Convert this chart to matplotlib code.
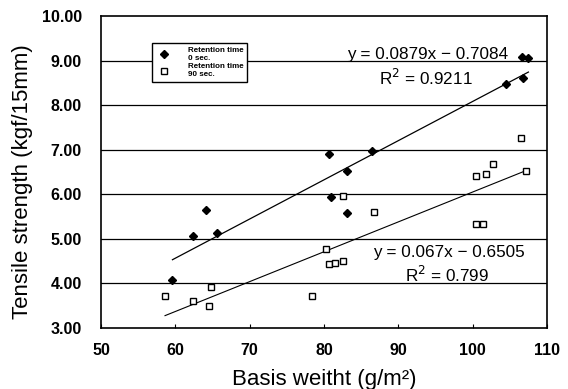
import numpy as np
import matplotlib
matplotlib.use("Agg")
import matplotlib.pyplot as plt
from matplotlib.ticker import FormatStrFormatter

plt.rcParams["font.family"] = ["Liberation Sans", "DejaVu Sans"]

# Retention time 0 sec. (filled diamonds)
x_0s = [59.6, 62.3, 64.1, 65.6, 80.7, 81.0, 83.1, 83.1, 86.5, 104.5, 106.8, 106.6, 107.5]
y_0s = [4.08, 5.07, 5.65, 5.14, 6.90, 5.93, 6.53, 5.58, 6.98, 8.48, 8.60, 9.08, 9.05]

# Retention time 90 sec. (open squares)
x_90s = [58.6, 62.4, 64.8, 64.5, 78.4, 80.2, 80.7, 81.5, 82.6, 82.5, 86.7,
         100.5, 101.4, 100.5, 101.8, 102.7, 106.5, 107.2]
y_90s = [3.72, 3.61, 3.91, 3.50, 3.72, 4.77, 4.44, 4.45, 4.51, 5.95, 5.60,
         5.33, 5.33, 6.40, 6.46, 6.67, 7.26, 6.51]

# linear fits as printed on the chart
fit_0s = (0.0879, -0.7084)
fit_90s = (0.067, -0.6505)

x_ticks = [50, 60, 70, 80, 90, 100, 110]
y_ticks = [3, 4, 5, 6, 7, 8, 9, 10]

fig = plt.figure(figsize=(5.68, 3.89), dpi=100)
ax = fig.add_axes([0.178, 0.157, 0.785, 0.802])

for yv in y_ticks[1:-1]:
    ax.axhline(yv, color="black", lw=0.9, zorder=1)

p0, = ax.plot(x_0s, y_0s, "D", ms=4, color="black", zorder=3)
p1, = ax.plot(x_90s, y_90s, "s", ms=4.5, mfc="white", mec="black", mew=1.0, zorder=3)

xs = np.array([min(x_0s), max(x_0s)])
ax.plot(xs, fit_0s[0] * xs + fit_0s[1], color="black", lw=0.9, zorder=2)
xs = np.array([min(x_90s), max(x_90s)])
ax.plot(xs, fit_90s[0] * xs + fit_90s[1], color="black", lw=0.8, zorder=2)

ax.text(93.9, 9.13, "y = 0.0879x \u2212 0.7084", ha="center", va="center", fontsize=12.3)
ax.text(93.7, 8.61, "R$^2$ = 0.9211", ha="center", va="center", fontsize=12.3)
ax.text(96.8, 4.69, "y = 0.067x \u2212 0.6505", ha="center", va="center", fontsize=12.3)
ax.text(96.6, 4.19, "R$^2$ = 0.799", ha="center", va="center", fontsize=12.3)

leg = ax.legend([p0, p1], ["Retention time\n0 sec.", "Retention time\n90 sec."],
                loc="upper left", bbox_to_anchor=(0.114, 0.913),
                prop={"size": 5.8, "weight": "bold"}, fancybox=False,
                edgecolor="black", framealpha=1, borderpad=0.45,
                handlelength=2.2, labelspacing=0.2, handletextpad=1.8,
                borderaxespad=0)
leg.get_frame().set_linewidth(1.0)

ax.set_xlim(50, 110)
ax.set_ylim(3, 10)
ax.set_xticks(x_ticks)
ax.set_yticks(y_ticks)
ax.yaxis.set_major_formatter(FormatStrFormatter("%.2f"))
ax.tick_params(axis="x", direction="in", length=3, pad=11, labelsize=11.5)
ax.tick_params(axis="y", length=0, pad=14, labelsize=11.5)
for lab in ax.get_xticklabels() + ax.get_yticklabels():
    lab.set_fontweight("bold")
for sp in ax.spines.values():
    sp.set_linewidth(1.2)

ax.set_xlabel("Basis weitht (g/m\u00b2)", fontsize=16, labelpad=8)
ax.set_ylabel("Tensile strength (kgf/15mm)", fontsize=16)
ax.yaxis.set_label_coords(-0.153, 0.47)

fig.savefig("out.png", dpi=100)
